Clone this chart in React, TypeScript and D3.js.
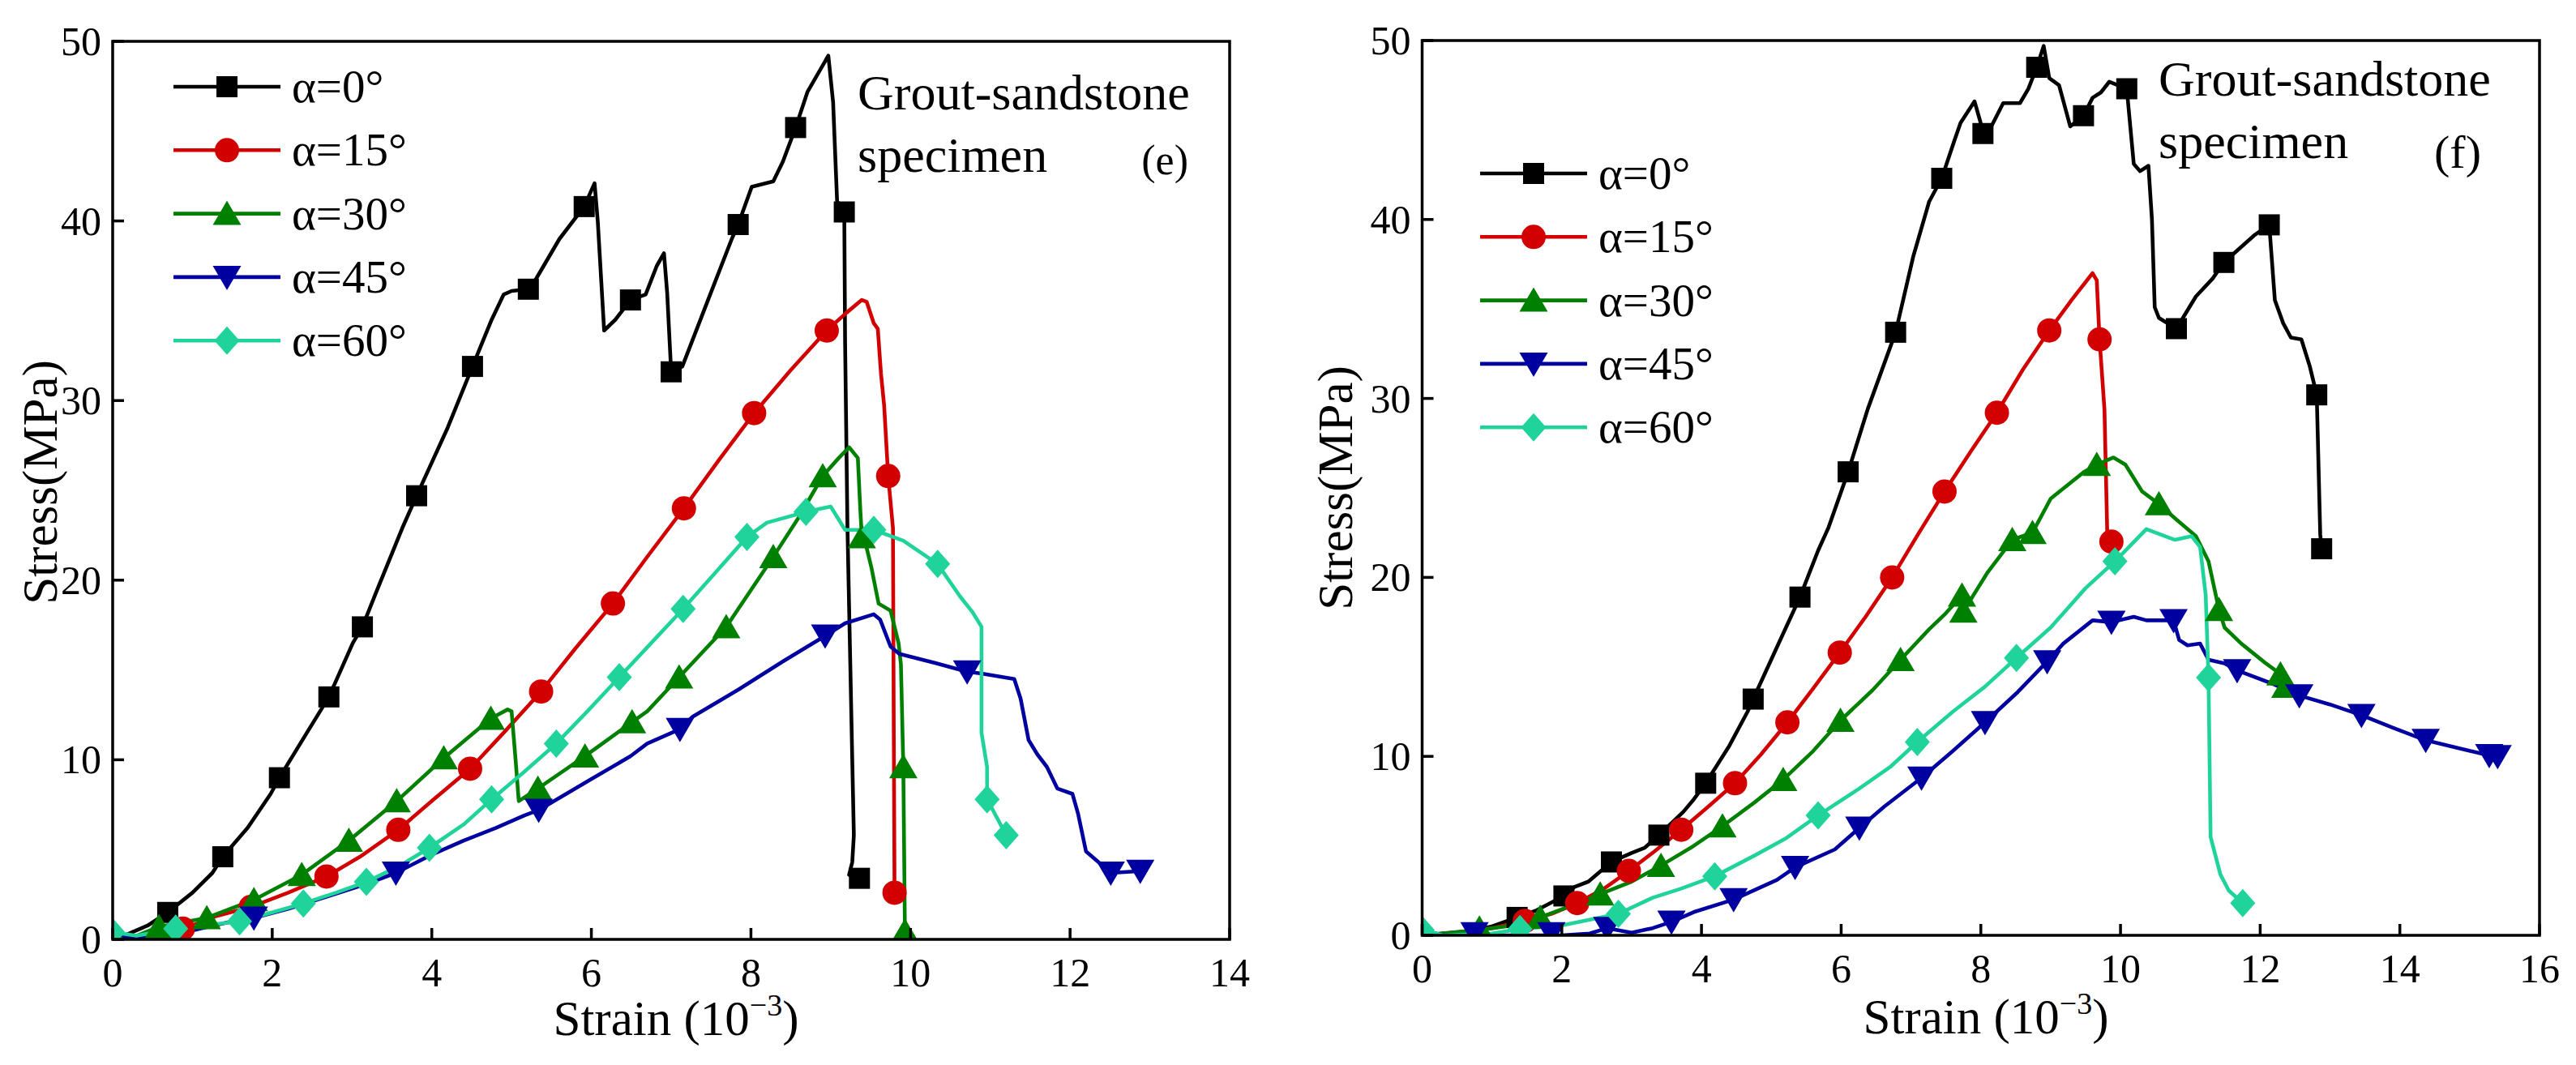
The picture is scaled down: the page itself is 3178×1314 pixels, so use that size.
import { useEffect, useRef } from 'react'
import * as d3 from 'd3'

type Pt = [number, number]

const W = 3178
const H = 1314
const FONT = '"Liberation Serif", "Times New Roman", Times, serif'

const seriesLabels = ['α=0°', 'α=15°', 'α=30°', 'α=45°', 'α=60°']
const seriesColors = ['#000000', '#d20000', '#008000', '#0000a0', '#1fd39b']
const seriesShapes = ['square', 'circle', 'triangle', 'triangleDown', 'diamond']

const stressTicks = [0, 10, 20, 30, 40, 50]
const strainTicksE = [0, 2, 4, 6, 8, 10, 12, 14]
const strainTicksF = [0, 2, 4, 6, 8, 10, 12, 14, 16]

// ---- panel (e) ----
const e0Line: Pt[] = [[0,0.1],[0.14,0.2],[0.45,0.8],[0.69,1.5],[1.0,2.6],[1.25,3.7],[1.38,4.6],[1.69,6.2],[1.98,8.1],[2.09,9.0],[2.42,11.4],[2.71,13.5],[3.01,16.5],[3.13,17.4],[3.3,19.3],[3.63,22.9],[3.81,24.7],[4.2,28.5],[4.51,31.9],[4.75,34.5],[4.9,35.9],[5.0,36.1],[5.21,36.2],[5.31,36.8],[5.6,39.0],[5.91,40.8],[6.04,42.1],[6.08,40],[6.16,33.9],[6.3,34.5],[6.49,35.6],[6.68,35.9],[6.82,37.5],[6.91,38.2],[6.95,36],[7.0,31.6],[7.14,31.9],[7.48,35.8],[7.76,39.0],[7.84,39.8],[8.01,41.9],[8.28,42.2],[8.4,43.3],[8.56,45.2],[8.71,47.2],[8.97,49.2],[9.03,46.6],[9.08,41.1],[9.17,40.5],[9.18,33.3],[9.21,22.9],[9.27,10],[9.29,5.8],[9.27,4.3],[9.23,3.6],[9.36,3.4]]
const e0Marks: Pt[] = [[0.69,1.5],[1.38,4.6],[2.09,9.0],[2.71,13.5],[3.13,17.4],[3.81,24.7],[4.51,31.9],[5.21,36.2],[5.91,40.8],[6.49,35.6],[7.0,31.6],[7.84,39.8],[8.56,45.2],[9.17,40.5],[9.36,3.4]]

const e15Line: Pt[] = [[0,0.2],[0.3,0],[0.8,0.2],[0.9,0.6],[1.3,1.3],[1.73,1.8],[2.2,2.6],[2.68,3.5],[3.1,4.6],[3.58,6.1],[4.0,7.7],[4.48,9.5],[4.9,11.5],[5.37,13.8],[5.8,16.2],[6.27,18.7],[6.7,21.3],[7.16,24.0],[7.6,26.7],[8.04,29.3],[8.5,31.7],[8.95,33.9],[9.2,34.9],[9.39,35.6],[9.45,35.5],[9.54,34.3],[9.59,34.0],[9.63,31.5],[9.67,29.7],[9.72,25.8],[9.78,22.9],[9.79,12],[9.8,2.6]]
const e15Marks: Pt[] = [[0.88,0.6],[1.73,1.8],[2.68,3.5],[3.58,6.1],[4.48,9.5],[5.37,13.8],[6.27,18.7],[7.16,24.0],[8.04,29.3],[8.95,33.9],[9.72,25.8],[9.8,2.6]]

const e30Line: Pt[] = [[0,0],[0.3,0.2],[0.58,0.7],[1.18,1.2],[1.77,2.2],[2.37,3.6],[2.96,5.5],[3.56,7.7],[4.15,10.1],[4.74,12.3],[4.95,12.8],[5.0,12.7],[5.05,10],[5.09,7.7],[5.33,8.4],[5.92,10.2],[6.51,12.1],[6.7,12.7],[7.1,14.6],[7.69,17.4],[8.28,21.3],[8.6,23.5],[8.9,25.8],[9.1,26.8],[9.23,27.4],[9.34,26.8],[9.37,24],[9.39,22.4],[9.45,21.8],[9.51,20.7],[9.6,18.7],[9.75,18.3],[9.85,16.5],[9.88,15.3],[9.91,9.6],[9.93,0.45]]
const e30Marks: Pt[] = [[0.58,0.7],[1.18,1.2],[1.77,2.2],[2.37,3.6],[2.96,5.5],[3.56,7.7],[4.15,10.1],[4.74,12.3],[5.33,8.4],[5.92,10.2],[6.51,12.1],[7.1,14.6],[7.69,17.4],[8.28,21.3],[8.9,25.8],[9.39,22.4],[9.91,9.6],[9.93,0.45]]

const e45Line: Pt[] = [[0,0.4],[0.2,0.1],[0.5,0.1],[1.0,0.5],[1.5,1.0],[1.77,1.2],[2.2,1.7],[2.7,2.4],[3.19,3.1],[3.55,3.7],[3.99,4.7],[4.4,5.5],[4.8,6.2],[5.16,6.9],[5.34,7.2],[5.99,8.9],[6.49,10.2],[6.7,10.9],[7.11,11.7],[7.27,12.4],[7.84,13.9],[8.41,15.5],[8.93,16.9],[9.18,17.6],[9.54,18.1],[9.62,17.8],[9.75,16.3],[9.86,15.9],[10.3,15.4],[10.71,14.9],[10.89,14.8],[11.3,14.5],[11.38,13.4],[11.48,11.1],[11.59,10.3],[11.71,9.6],[11.84,8.4],[12.03,8.1],[12.1,7.0],[12.2,4.9],[12.41,4.1],[12.51,3.7],[12.88,3.8]]
const e45Marks: Pt[] = [[1.77,1.2],[3.55,3.7],[5.34,7.2],[7.11,11.7],[8.93,16.9],[10.71,14.9],[12.51,3.7],[12.88,3.8]]

const e60Line: Pt[] = [[0,0.4],[0.3,0.2],[0.79,0.6],[1.2,0.8],[1.59,1.0],[2.0,1.5],[2.39,2.0],[2.8,2.6],[3.18,3.2],[3.6,4.1],[3.97,5.1],[4.4,6.4],[4.75,7.8],[5.15,9.3],[5.56,10.9],[5.95,12.7],[6.35,14.6],[6.75,16.5],[7.15,18.4],[7.55,20.4],[7.95,22.4],[8.2,23.2],[8.69,23.8],[9.0,24.1],[9.18,22.8],[9.54,22.8],[9.91,22.2],[10.34,20.9],[10.62,19.1],[10.78,18.2],[10.89,17.4],[10.89,11.5],[10.96,9.6],[10.96,7.8],[11.2,5.8]]
const e60Marks: Pt[] = [[0,0.4],[0.79,0.6],[1.59,1.0],[2.39,2.0],[3.18,3.2],[3.97,5.1],[4.75,7.8],[5.56,10.9],[6.35,14.6],[7.15,18.4],[7.95,22.4],[8.69,23.8],[9.54,22.8],[10.34,20.9],[10.96,7.8],[11.2,5.8]]

// ---- panel (f) ----
const f0Line: Pt[] = [[0,0],[0.64,0.2],[1.0,0.5],[1.36,1.0],[1.64,1.4],[2.03,2.2],[2.18,2.7],[2.38,3.0],[2.71,4.1],[3.0,4.6],[3.19,4.9],[3.39,5.6],[3.74,6.9],[3.89,7.6],[4.06,8.5],[4.4,10.6],[4.66,12.5],[4.74,13.2],[5.08,16.1],[5.41,18.9],[5.67,21.5],[5.82,22.8],[6.1,25.9],[6.38,29.4],[6.78,33.7],[7.03,37.9],[7.26,41.0],[7.44,42.3],[7.62,44.4],[7.71,45.4],[7.91,46.6],[7.99,45.5],[8.03,44.8],[8.15,45.2],[8.32,46.5],[8.56,46.5],[8.68,47.3],[8.8,48.5],[8.9,49.7],[8.98,47.9],[9.12,47.5],[9.28,45.2],[9.47,45.8],[9.6,46.8],[9.72,47.1],[9.84,47.7],[10.09,47.3],[10.19,43.1],[10.28,42.7],[10.4,43.0],[10.45,40],[10.49,35.1],[10.55,34.5],[10.8,33.9],[11.08,35.7],[11.32,36.7],[11.48,37.6],[11.91,39.1],[12.13,39.7],[12.21,35.5],[12.33,34.2],[12.44,33.4],[12.59,33.3],[12.71,31.8],[12.81,30.2],[12.86,22.4],[12.88,21.6]]
const f0Marks: Pt[] = [[1.36,1.0],[2.03,2.2],[2.71,4.1],[3.39,5.6],[4.06,8.5],[4.74,13.2],[5.41,18.9],[6.1,25.9],[6.78,33.7],[7.44,42.3],[8.03,44.8],[8.8,48.5],[9.47,45.8],[10.09,47.3],[10.8,33.9],[11.48,37.6],[12.13,39.7],[12.81,30.2],[12.88,21.6]]

const f15Line: Pt[] = [[0,0],[0.58,0.2],[1.0,0.4],[1.47,0.8],[1.85,1.2],[2.22,1.8],[2.6,2.6],[2.96,3.6],[3.33,4.7],[3.71,5.9],[4.1,7.2],[4.48,8.5],[4.85,10.1],[5.23,11.9],[5.6,13.8],[5.98,15.8],[6.35,17.8],[6.73,20.0],[7.1,22.4],[7.48,24.8],[7.85,27.0],[8.23,29.2],[8.6,31.6],[8.98,33.8],[9.3,35.5],[9.6,37.0],[9.66,36.6],[9.7,33.3],[9.77,29.4],[9.81,22.5],[9.8,21.8],[9.87,22.0]]
const f15Marks: Pt[] = [[1.47,0.8],[2.22,1.8],[2.96,3.6],[3.71,5.9],[4.48,8.5],[5.23,11.9],[5.98,15.8],[6.73,20.0],[7.48,24.8],[8.23,29.2],[8.98,33.8],[9.7,33.3],[9.87,22.0]]

const f30Line: Pt[] = [[0,0],[0.82,0.3],[1.2,0.5],[1.69,1.0],[2.1,1.6],[2.55,2.3],[3.0,3.0],[3.42,3.9],[3.85,4.9],[4.3,6.1],[4.75,7.4],[5.17,8.7],[5.6,10.3],[5.99,12.0],[6.45,13.7],[6.85,15.4],[7.26,17.1],[7.5,18.0],[7.73,19.0],[7.75,18.1],[8.1,20.3],[8.45,22.1],[8.74,22.5],[9.0,24.4],[9.48,25.9],[9.66,26.3],[9.9,26.7],[10.07,26.3],[10.31,24.8],[10.55,24.1],[10.78,23.3],[11.08,22.3],[11.26,20.9],[11.41,18.2],[11.49,17.2],[11.73,16.3],[12.08,15.2],[12.29,14.6],[12.44,14.0]]
const f30Marks: Pt[] = [[0.82,0.4],[1.69,1.0],[2.55,2.3],[3.42,3.9],[4.3,6.1],[5.17,8.7],[5.99,12.0],[6.85,15.4],[7.73,19.0],[7.75,18.1],[8.45,22.1],[8.74,22.5],[9.66,26.3],[10.55,24.1],[11.41,18.2],[12.29,14.6],[12.36,13.9]]

const f45Line: Pt[] = [[0,0.3],[0.3,0],[1.0,0],[2.0,0],[2.4,0.1],[2.65,0.4],[3.0,0.15],[3.3,0.4],[3.57,0.75],[3.89,1.3],[4.46,2.0],[5.08,3.1],[5.34,3.8],[5.91,4.8],[6.26,6.0],[6.62,7.2],[7.15,8.8],[7.6,10.3],[8.06,11.9],[8.53,13.6],[8.95,15.3],[9.18,16.3],[9.6,17.6],[9.87,17.5],[10.19,17.8],[10.37,17.6],[10.76,17.6],[10.84,16.5],[10.96,16.2],[11.14,16.3],[11.26,15.4],[11.49,15.2],[11.67,14.8],[12.15,14.1],[12.56,13.4],[13.0,12.9],[13.45,12.3],[13.9,11.6],[14.37,10.9],[14.8,10.5],[15.28,10.05],[15.4,10.0]]
const f45Marks: Pt[] = [[0.75,0.1],[1.85,0.1],[2.65,0.4],[3.57,0.75],[4.46,2.0],[5.34,3.8],[6.26,6.0],[7.15,8.8],[8.06,11.9],[8.95,15.3],[9.87,17.5],[10.76,17.6],[11.67,14.8],[12.56,13.4],[13.45,12.3],[14.37,10.9],[15.28,10.05],[15.4,10.0]]

const f60Line: Pt[] = [[0,0.3],[0.3,0],[1.0,0.1],[1.4,0.35],[2.0,0.56],[2.81,1.2],[3.3,2.1],[3.7,2.6],[4.19,3.3],[4.78,4.5],[5.2,5.4],[5.67,6.7],[6.26,8.2],[6.7,9.4],[7.09,10.8],[7.6,12.5],[8.06,13.9],[8.51,15.5],[9.0,17.2],[9.5,19.4],[9.92,20.9],[10.37,22.7],[10.78,22.1],[11.02,22.3],[11.14,21.7],[11.22,19],[11.26,14.4],[11.29,5.5],[11.43,3.4],[11.55,2.5],[11.75,1.8]]
const f60Marks: Pt[] = [[0,0.3],[1.4,0.35],[2.81,1.2],[4.19,3.3],[5.67,6.7],[7.09,10.8],[8.51,15.5],[9.92,20.9],[11.26,14.4],[11.75,1.8]]

function markerPath(shape: string): string {
  switch (shape) {
    case 'square':
      return 'M-13,-13H13V13H-13Z'
    case 'circle':
      return 'M-15,0A15,15 0 1,0 15,0A15,15 0 1,0 -15,0Z'
    case 'triangle':
      return 'M0,-16L17.5,14L-17.5,14Z'
    case 'triangleDown':
      return 'M0,16L17.5,-14L-17.5,-14Z'
    default:
      return 'M0,-17.5L15.5,0L0,17.5L-15.5,0Z'
  }
}

const panels = [
  {
    id: 'e', left: 139, right: 1517, top: 51, bottom: 1159,
    xMax: 14, xTicks: strainTicksE,
    lines: [e0Line, e15Line, e30Line, e45Line, e60Line],
    marks: [e0Marks, e15Marks, e30Marks, e45Marks, e60Marks],
    legendX: 214, legendY: 107,
    noteX: 1058, noteY: 135, tag: '(e)', tagX: 1466, tagY: 215, tagSize: 52,
    yTitleX: 70, yTitleY: 595, xTitleX: 834, xTitleY: 1277,
  },
  {
    id: 'f', left: 1754.5, right: 3133, top: 50, bottom: 1154,
    xMax: 16, xTicks: strainTicksF,
    lines: [f0Line, f15Line, f30Line, f45Line, f60Line],
    marks: [f0Marks, f15Marks, f30Marks, f45Marks, f60Marks],
    legendX: 1826, legendY: 214,
    noteX: 2663, noteY: 118, tag: '(f)', tagX: 3061, tagY: 207, tagSize: 58,
    yTitleX: 1668, yTitleY: 602, xTitleX: 2450, xTitleY: 1275,
  },
]

export default function App() {
  const svgRef = useRef<SVGSVGElement>(null)

  useEffect(() => {
    if (!svgRef.current) return
    document.body.style.margin = '0'

    const svg = d3.select(svgRef.current)
    svg.selectAll('*').remove()
    svg.attr('width', W).attr('height', H).style('font-family', FONT)

    svg.append('rect').attr('width', W).attr('height', H).attr('fill', '#fff')

    panels.forEach((p) => {
      const x = d3.scaleLinear().domain([0, p.xMax]).range([p.left, p.right])
      const y = d3.scaleLinear().domain([0, 50]).range([p.bottom, p.top])

      const clipId = `clip-${p.id}`
      svg.append('clipPath').attr('id', clipId)
        .append('rect')
        .attr('x', p.left).attr('y', p.top)
        .attr('width', p.right - p.left).attr('height', p.bottom - p.top)

      const g = svg.append('g')

      // Curves
      const line = d3.line<Pt>().x((d) => x(d[0])).y((d) => y(d[1]))
      const plot = g.append('g').attr('clip-path', `url(#${clipId})`)
      p.lines.forEach((pts, i) => {
        plot.append('path')
          .attr('d', line(pts) as string)
          .attr('fill', 'none')
          .attr('stroke', seriesColors[i])
          .attr('stroke-width', 4.6)
          .attr('stroke-linejoin', 'round')
          .attr('stroke-linecap', 'round')
      })
      p.marks.forEach((pts, i) => {
        plot.selectAll(null)
          .data(pts)
          .enter()
          .append('path')
          .attr('d', markerPath(seriesShapes[i]))
          .attr('transform', (d) => `translate(${x(d[0])},${y(d[1])})`)
          .attr('fill', seriesColors[i])
      })

      // Frame and ticks
      g.append('rect')
        .attr('x', p.left).attr('y', p.top)
        .attr('width', p.right - p.left).attr('height', p.bottom - p.top)
        .attr('fill', 'none').attr('stroke', '#000').attr('stroke-width', 3.5)

      p.xTicks.forEach((t) => {
        g.append('line')
          .attr('x1', x(t)).attr('x2', x(t))
          .attr('y1', p.bottom).attr('y2', p.bottom - 14)
          .attr('stroke', '#000').attr('stroke-width', 3.5)
        g.append('text')
          .attr('x', x(t)).attr('y', p.bottom + 58)
          .attr('text-anchor', 'middle')
          .attr('font-size', 50)
          .text(t)
      })
      stressTicks.forEach((t) => {
        g.append('line')
          .attr('x1', p.left).attr('x2', p.left + 14)
          .attr('y1', y(t)).attr('y2', y(t))
          .attr('stroke', '#000').attr('stroke-width', 3.5)
        g.append('text')
          .attr('x', p.left - 14).attr('y', y(t) + 17)
          .attr('text-anchor', 'end')
          .attr('font-size', 50)
          .text(t)
      })

      // Axis titles
      g.append('text')
        .attr('transform', `translate(${p.yTitleX},${p.yTitleY}) rotate(-90)`)
        .attr('text-anchor', 'middle')
        .attr('font-size', 61)
        .text('Stress(MPa)')

      const xt = g.append('text')
        .attr('x', p.xTitleX).attr('y', p.xTitleY)
        .attr('text-anchor', 'middle')
        .attr('font-size', 61)
      xt.append('tspan').text('Strain (10')
      xt.append('tspan').attr('dy', -24).attr('font-size', 38).text('−3')
      xt.append('tspan').attr('dy', 24).text(')')

      // Legend
      seriesLabels.forEach((lab, i) => {
        const ly = p.legendY + i * 78.3
        g.append('line')
          .attr('x1', p.legendX).attr('x2', p.legendX + 132)
          .attr('y1', ly).attr('y2', ly)
          .attr('stroke', seriesColors[i]).attr('stroke-width', 4.6)
        g.append('path')
          .attr('d', markerPath(seriesShapes[i]))
          .attr('transform', `translate(${p.legendX + 66},${ly})`)
          .attr('fill', seriesColors[i])
        g.append('text')
          .attr('x', p.legendX + 146).attr('y', ly + 19)
          .attr('font-size', 57)
          .text(lab)
      })

      // Note
      g.append('text')
        .attr('x', p.noteX).attr('y', p.noteY)
        .attr('font-size', 62)
        .text('Grout-sandstone')
      g.append('text')
        .attr('x', p.noteX).attr('y', p.noteY + 77)
        .attr('font-size', 62)
        .text('specimen')
      g.append('text')
        .attr('x', p.tagX).attr('y', p.tagY)
        .attr('text-anchor', 'end')
        .attr('font-size', p.tagSize)
        .text(p.tag)
    })
  }, [])

  return (
    <div style={{ position: 'absolute', left: 0, top: 0 }}>
      <svg ref={svgRef} style={{ display: 'block' }}></svg>
    </div>
  )
}
